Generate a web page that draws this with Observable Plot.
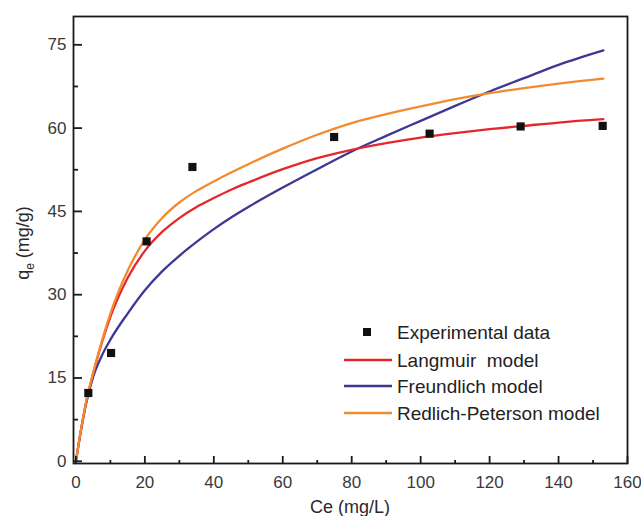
<!DOCTYPE html>
<html><head><meta charset="utf-8">
<script src="https://cdn.jsdelivr.net/npm/d3@7"></script>
<script src="https://cdn.jsdelivr.net/npm/@observablehq/plot@0.6"></script>
<style>body{margin:0;background:#fff} svg{display:block}</style>
</head><body><div id="chart"></div>
<script>
// Experimental data
const ceExp = [3.6, 10.2, 20.5, 33.8, 74.9, 102.6, 129.0, 152.8];
const qeExp = [12.3, 19.5, 39.6, 53.0, 58.4, 59.0, 60.3, 60.4];
// Model curves
const ceFit = [0, 1, 2, 3, 5, 7.5, 10, 15, 20, 25, 30, 35, 40, 45, 50, 60, 70, 80, 90, 100, 110, 120, 130, 140, 153];
const qLangmuir = [0, 3.9, 7.5, 10.7, 15.8, 21.3, 26.0, 33.0, 37.9, 41.3, 43.8, 45.8, 47.4, 48.9, 50.2, 52.6, 54.6, 56.1, 57.3, 58.3, 59.1, 59.8, 60.4, 61.0, 61.6];
const qFreundlich = [0, 3.9, 7.4, 10.5, 15.2, 19.0, 21.9, 26.6, 30.8, 34.2, 37.0, 39.5, 41.8, 43.9, 45.8, 49.3, 52.6, 55.8, 58.6, 61.3, 64.0, 66.6, 69.0, 71.4, 74.0];
const qRedlich = [0, 4.0, 7.6, 10.9, 15.9, 21.6, 26.6, 34.3, 39.9, 43.8, 46.6, 48.7, 50.4, 52.0, 53.5, 56.3, 58.8, 60.9, 62.5, 63.9, 65.2, 66.3, 67.2, 68.0, 68.9];
// Ticks
const xMajor = [0, 20, 40, 60, 80, 100, 120, 140, 160];
const xMinor = [10, 30, 50, 70, 90, 110, 130, 150];
const yMajor = [0, 15, 30, 45, 60, 75];
const yMinor = [7.5, 22.5, 37.5, 52.5, 67.5];
// Series (drawn in this order)
const seriesNames = ["Langmuir  model", "Freundlich model", "Redlich-Peterson model"];
const seriesColors = ["#e5272c", "#3c3894", "#f28b30"];
const pointLabel = "Experimental data";

const expData = ceExp.map((c, i) => ({c, q: qeExp[i]}));
const fits = [qLangmuir, qFreundlich, qRedlich];
const drawOrder = [1, 0, 2];
const fitData = drawOrder.flatMap(k => ceFit.map((c, i) => ({c, q: fits[k][i], s: seriesNames[k]})));

const font = "Liberation Sans, Arial, Helvetica, sans-serif";

const chart = Plot.plot({
  width: 641,
  height: 516,
  marginLeft: 73,
  marginRight: 14,
  marginTop: 16,
  marginBottom: 53,
  style: {fontFamily: font, fontSize: "17px", color: "#3a3a3a", background: "#fff"},
  x: {domain: [-0.7, 160]},
  y: {domain: [-0.4, 80.1]},
  color: {domain: seriesNames, range: seriesColors},
  marks: [
    Plot.line(fitData, {x: "c", y: "q", z: "s", stroke: "s", strokeWidth: 2.3, curve: "monotone-x"}),
    Plot.dot(expData, {x: "c", y: "q", symbol: "square", r: 4.6, fill: "#111", stroke: "none"}),
    Plot.frame({stroke: "#1a1a1a", strokeWidth: 1.8}),
    Plot.axisX(xMajor, {tickSize: 0, tickPadding: 12, label: null, fill: "#3a3a3a"}),
    Plot.axisY(yMajor, {tickSize: 0, tickPadding: 7, label: null, fill: "#3a3a3a"}),
    Plot.axisX(xMajor, {anchor: "top", frameAnchor: "bottom", tickSize: 8, text: null, label: null, strokeWidth: 1.8, stroke: "#1a1a1a"}),
    Plot.axisX(xMinor, {anchor: "top", frameAnchor: "bottom", tickSize: 4, text: null, label: null, strokeWidth: 1.8, stroke: "#1a1a1a"}),
    Plot.axisY(yMajor, {anchor: "right", frameAnchor: "left", tickSize: 8, text: null, label: null, strokeWidth: 1.8, stroke: "#1a1a1a"}),
    Plot.axisY(yMinor, {anchor: "right", frameAnchor: "left", tickSize: 4, text: null, label: null, strokeWidth: 1.8, stroke: "#1a1a1a"})
  ]
});

document.getElementById("chart").appendChild(chart);

// Axis titles and legend
const svg = d3.select(chart);
svg.append("text")
  .attr("x", 350).attr("y", 513)
  .attr("text-anchor", "middle")
  .attr("font-family", font).attr("font-size", 18).attr("fill", "#2a2a2a")
  .text("Ce (mg/L)");

const yl = svg.append("text")
  .attr("transform", "translate(29,243) rotate(-90)")
  .attr("text-anchor", "middle")
  .attr("font-family", font).attr("font-size", 18).attr("fill", "#2a2a2a");
yl.append("tspan").text("q");
yl.append("tspan").attr("font-size", 12).attr("dy", 5).text("e");
yl.append("tspan").attr("dy", -5).text(" (mg/g)");

const lg = svg.append("g").attr("font-family", font).attr("font-size", 19).attr("fill", "#222").attr("text-anchor", "start");
lg.append("rect").attr("x", 363).attr("y", 328).attr("width", 8).attr("height", 8).attr("fill", "#111");
lg.append("text").attr("x", 397).attr("y", 332).attr("dy", "0.35em").attr("text-anchor", "start").text(pointLabel);
const ly = [360, 386, 413];
seriesNames.forEach((n, i) => {
  lg.append("line").attr("x1", 344).attr("x2", 392).attr("y1", ly[i]).attr("y2", ly[i])
    .attr("stroke", seriesColors[i]).attr("stroke-width", 2.3);
  lg.append("text").attr("x", 397).attr("y", ly[i]).attr("dy", "0.35em").attr("text-anchor", "start").style("white-space", "pre").text(n);
});
</script>
</body></html>
